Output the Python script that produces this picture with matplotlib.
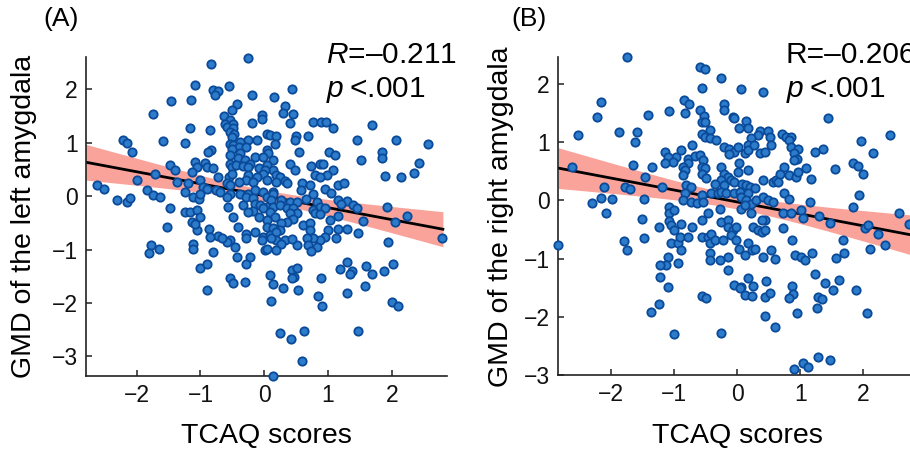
import numpy as np
import matplotlib
matplotlib.use("Agg")
import matplotlib.pyplot as plt

plt.rcParams['font.family'] = ['Liberation Sans', 'DejaVu Sans']
plt.rcParams['mathtext.fontset'] = 'custom'
plt.rcParams['mathtext.rm'] = 'Liberation Sans'
plt.rcParams['mathtext.it'] = 'Liberation Sans:italic'

# ---------------- data: panel A (left amygdala) ----------------
left_x = [
    -0.84,-0.25,-1.08,-0.56,-0.80,-0.72,-0.77,-0.20,0.43,0.15,
    -1.47,-1.15,-0.42,-0.51,0.32,-1.74,-0.63,0.29,0.45,-0.03,
    -0.03,-0.54,-0.61,-0.49,0.76,0.89,0.97,-0.19,0.40,1.69,
    -0.59,-0.49,-0.54,-0.85,-1.17,1.07,-0.47,0.04,0.09,0.18,
    0.50,0.48,0.69,-0.50,-0.12,1.45,2.07,2.56,-2.21,-2.16,
    -1.58,-1.24,-0.26,-0.38,-0.54,-0.49,0.17,-0.83,-0.88,-0.39,
    -0.29,-0.51,-2.08,0.54,1.02,1.85,0.04,0.06,-0.38,-0.41,
    -0.15,-0.02,0.14,1.11,1.51,1.85,-0.54,-0.30,-0.54,-0.50,
    -0.45,-1.09,-0.93,-0.90,-1.06,-1.48,-1.40,-0.80,-0.22,-0.33,
    -0.25,-0.09,0.04,0.40,0.87,0.92,0.74,2.43,2.34,2.15,
    1.90,0.48,0.14,0.01,-0.02,-1.14,-1.71,-0.72,-0.56,-0.51,
    -0.25,-0.12,0.19,0.25,1.08,0.79,0.98,0.87,-0.28,-0.17,
    0.04,0.32,0.19,-0.39,-1.01,-1.37,-2.00,-1.19,-0.59,-0.54,
    -2.63,-2.51,-1.84,-1.74,-1.64,-0.96,-0.90,-0.75,-0.69,-0.54,
    -0.38,-0.25,-0.15,-0.02,0.14,0.35,0.59,0.72,0.95,1.04,
    1.16,1.25,0.57,0.77,-2.31,-2.16,-2.11,-1.24,-1.11,-1.03,
    -1.01,-0.59,-0.28,-0.17,0.04,0.14,0.11,0.27,0.40,0.51,
    0.66,0.82,1.16,1.29,1.39,1.21,1.45,-0.15,-0.07,0.04,
    0.14,0.25,0.35,0.45,0.87,0.95,-1.48,-1.24,-1.17,-1.06,
    -0.57,-0.33,-0.17,-0.02,0.09,0.17,0.77,0.79,1.92,2.23,
    2.05,1.55,1.16,0.87,0.51,0.40,-0.09,-0.25,-1.01,-1.14,
    -1.06,-1.53,-1.09,-0.49,0.60,0.72,0.72,1.29,1.16,1.47,
    1.00,1.03,0.45,0.35,0.27,0.05,0.04,0.14,0.25,-0.41,
    -0.86,-0.72,-0.85,-0.28,-0.15,-0.02,0.09,0.19,1.12,0.95,
    0.87,0.77,0.67,0.69,0.82,2.79,1.94,0.32,0.19,0.27,
    0.11,-0.28,-0.04,-0.54,-0.59,-0.46,-0.67,-1.12,-1.11,-1.77,
    -1.65,-1.80,-0.80,0.01,0.04,0.19,0.51,0.43,0.74,-0.42,
    -0.22,-0.28,-1.01,-0.90,-0.54,-0.49,-0.31,-0.90,0.09,0.13,
    0.29,0.43,0.46,0.52,0.44,0.53,0.89,0.85,0.91,1.19,
    1.29,1.37,1.34,1.29,1.60,1.69,1.58,1.47,1.88,2.02,
    2.00,2.10,0.10,0.24,0.42,0.63,0.59,0.13]
left_y = [
    2.48,2.58,2.08,2.06,1.99,1.97,1.89,1.89,2.00,1.86,
    1.78,1.81,1.72,1.62,1.69,1.53,1.50,1.55,1.54,1.52,
    1.45,1.42,1.36,1.36,1.39,1.39,1.39,1.37,1.37,1.33,
    1.30,1.28,1.20,1.24,1.27,1.27,1.17,1.17,1.14,1.12,
    1.12,1.06,1.12,1.11,1.06,1.06,1.06,0.97,1.06,1.00,
    1.04,0.99,1.06,1.02,0.97,0.96,0.97,0.86,0.83,0.92,
    0.92,0.89,0.82,0.83,0.83,0.83,0.86,0.80,0.80,0.72,
    0.74,0.74,0.67,0.77,0.67,0.71,0.77,0.67,0.61,0.55,
    0.58,0.64,0.62,0.55,0.55,0.58,0.49,0.52,0.61,0.57,
    0.54,0.52,0.58,0.61,0.61,0.61,0.57,0.62,0.44,0.36,
    0.38,0.49,0.49,0.49,0.42,0.46,0.41,0.36,0.36,0.42,
    0.39,0.36,0.39,0.36,0.49,0.39,0.39,0.36,0.30,0.27,
    0.30,0.28,0.27,0.27,0.30,0.27,0.30,0.24,0.24,0.21,
    0.21,0.14,0.11,0.03,-0.02,0.17,0.14,0.11,0.08,0.05,
    0.05,0.05,0.11,0.08,0.08,0.24,0.24,0.21,0.14,0.06,
    0.21,0.24,0.12,0.05,-0.07,-0.11,-0.04,0.08,-0.01,-0.06,
    0.05,-0.01,-0.01,-0.04,-0.01,0.05,-0.07,-0.07,-0.11,-0.11,
    -0.06,-0.11,-0.07,-0.09,-0.17,-0.15,-0.23,-0.15,-0.17,-0.20,
    -0.20,-0.17,-0.23,-0.23,-0.20,-0.23,-0.23,-0.29,-0.29,-0.26,
    -0.20,-0.17,-0.27,-0.23,-0.29,-0.39,-0.25,-0.32,-0.20,-0.37,
    -0.48,-0.46,-0.37,-0.34,-0.32,-0.32,-0.39,-0.29,-0.39,-0.48,
    -0.64,-0.57,-0.52,-0.39,-0.54,-0.51,-0.64,-0.61,-0.61,-0.69,
    -0.64,-0.45,-0.42,-0.48,-0.51,-0.45,-0.57,-0.59,-0.64,-0.57,
    -0.62,-0.75,-0.76,-0.70,-0.67,-0.76,-0.73,-0.67,-0.79,-0.77,
    -0.82,-0.79,-0.79,-0.92,-0.95,-0.79,-0.86,-0.82,-0.82,-0.89,
    -0.79,-0.79,-0.82,-0.82,-0.86,-0.95,-0.79,-0.89,-0.98,-0.92,
    -0.98,-1.06,-1.04,-1.01,-0.98,-1.00,-0.92,-0.81,-1.02,-1.14,
    -1.14,-1.26,-1.35,-1.26,-1.54,-1.62,-1.60,-1.76,-1.48,-1.64,
    -1.71,-1.39,-1.51,-1.35,-1.54,-1.76,-1.54,-1.87,-2.05,-1.37,
    -1.24,-1.40,-1.45,-1.82,-1.31,-1.46,-1.69,-2.52,-1.40,-1.27,
    -1.98,-2.06,-1.97,-2.57,-2.67,-2.53,-3.09,-3.36]

# ---------------- data: panel B (right amygdala) ----------------
right_x = [
    -1.74,-0.59,-0.50,-0.56,-0.25,0.06,0.41,-2.16,-2.21,-2.52,
    -1.87,-1.58,-1.62,-1.41,-1.08,-0.84,-0.76,-0.82,-0.59,-0.52,
    -0.56,-0.50,-0.21,-0.20,-0.06,-0.04,0.15,0.17,0.03,1.44,
    -0.56,-0.50,-0.42,-0.43,-0.33,0.36,0.49,0.52,0.33,0.22,
    0.17,0.72,0.77,0.86,0.83,1.96,2.42,2.16,-0.71,-1.14,
    -0.89,-0.96,-1.09,-1.01,-1.14,-0.78,-0.67,-0.59,-0.54,-0.78,
    -0.20,-0.12,-0.04,0.01,-0.12,0.12,0.17,0.27,0.37,0.44,
    0.54,0.86,0.97,0.91,0.95,0.90,1.23,1.36,-0.85,-0.83,
    -0.85,-0.56,-0.51,-0.56,-0.49,-0.25,-0.20,-0.14,0.03,0.17,
    0.01,-0.25,-0.35,-0.09,-0.04,0.08,0.15,0.20,0.28,0.41,
    0.57,0.62,0.68,0.75,0.83,0.65,0.94,0.97,1.10,1.17,
    1.55,1.84,1.91,2.00,-1.64,-1.46,-1.34,-2.61,-2.11,-2.15,
    -1.98,-2.30,-2.07,-1.77,-1.70,-1.48,-1.19,-0.80,-0.73,-0.83,
    -0.86,-0.73,-0.56,-0.63,-0.54,-0.41,-0.30,-0.21,-0.25,-0.17,
    -0.04,0.04,0.07,0.17,0.14,0.22,0.30,0.41,0.49,0.57,
    0.75,0.82,0.73,0.86,1.02,1.15,1.04,1.30,1.48,1.84,
    1.93,2.56,-1.51,-1.47,-1.24,-1.08,-1.08,-0.99,-1.07,-1.04,
    -0.99,-0.88,-0.72,-0.56,-0.46,-0.27,-0.25,-0.14,-0.14,-0.06,
    -0.01,-0.09,-0.01,0.06,0.12,0.22,0.25,0.33,0.39,0.44,
    0.39,0.44,0.73,2.02,2.07,2.24,2.34,2.10,1.68,1.70,
    1.56,0.87,-2.83,-1.79,-1.75,-1.04,-0.93,-0.88,-0.91,-0.78,
    -0.56,-0.46,-0.43,-0.41,-0.35,-0.22,-0.43,-0.42,-0.27,-0.14,
    0.03,0.12,0.17,0.23,0.28,0.41,0.54,0.60,0.92,1.02,
    1.07,1.19,-1.09,-1.12,-1.22,-0.93,-0.14,-0.04,0.07,0.04,
    0.12,0.23,0.17,0.25,0.46,0.44,0.53,0.87,0.89,0.83,
    0.95,1.24,1.40,1.61,1.52,1.28,1.35,1.26,1.89,2.06,
    -1.22,-1.10,-1.24,-1.37,-0.55,-0.49,-1.00,-0.26,0.45,0.60,
    0.91,1.04,1.12,1.28,1.48,2.73]
right_y = [
    2.46,2.29,2.26,1.94,2.10,1.91,1.86,1.70,1.43,1.12,
    1.17,1.17,1.01,1.46,1.54,1.72,1.65,1.50,1.55,1.45,
    1.35,1.34,1.65,1.56,1.44,1.41,1.37,1.24,1.24,1.41,
    1.14,1.09,1.21,1.07,1.04,1.20,1.20,1.09,1.12,1.07,
    0.95,1.15,1.09,1.09,1.04,1.03,1.12,0.82,0.95,0.84,
    0.87,0.75,0.75,0.66,0.64,0.72,0.76,0.78,0.69,0.65,
    0.92,0.89,0.84,0.92,0.80,0.81,0.87,0.95,0.81,0.84,
    0.95,0.92,0.89,0.81,0.72,0.70,0.84,0.89,0.58,0.52,
    0.44,0.58,0.55,0.46,0.38,0.58,0.46,0.41,0.64,0.52,
    0.49,0.35,0.29,0.35,0.32,0.29,0.26,0.23,0.21,0.35,
    0.32,0.35,0.46,0.58,0.44,0.32,0.41,0.49,0.55,0.37,
    0.54,0.65,0.60,0.45,0.61,0.40,0.58,0.58,0.23,0.05,
    0.03,-0.05,-0.21,0.23,0.19,0.02,0.23,0.26,0.23,0.12,
    0.01,-0.02,0.09,-0.05,-0.02,0.13,0.12,0.26,0.15,0.12,
    0.12,0.15,0.06,0.12,0.01,-0.06,0.01,0.06,0.01,-0.02,
    0.12,0.03,-0.22,-0.22,-0.17,-0.02,-0.31,-0.27,-0.38,-0.12,
    0.09,-0.21,-0.32,-0.64,-0.45,-0.11,-0.21,-0.17,-0.36,-0.42,
    -0.51,-0.40,-0.45,-0.34,-0.22,-0.15,-0.37,-0.34,-0.45,-0.51,
    -0.45,-0.60,-0.68,-0.14,-0.08,-0.22,-0.45,-0.51,-0.54,-0.34,
    -0.34,-0.51,-0.48,-0.48,-0.42,-0.57,-0.77,-0.83,-0.68,-0.91,
    -0.99,-0.68,-0.77,-0.69,-0.85,-0.74,-0.74,-0.85,-0.62,-0.62,
    -0.62,-0.62,-0.74,-0.57,-0.68,-0.68,-0.91,-1.03,-1.03,-0.97,
    -0.83,-0.94,-0.74,-0.85,-0.83,-0.97,-0.85,-1.00,-0.94,-0.97,
    -1.03,-0.91,-0.97,-1.11,-1.11,-1.08,-1.19,-1.46,-1.48,-1.51,
    -1.63,-1.64,-1.34,-1.47,-1.39,-1.66,-1.59,-1.47,-1.60,-1.68,
    -1.93,-1.27,-1.42,-1.37,-1.54,-1.66,-1.70,-1.84,-1.54,-1.94,
    -1.31,-1.48,-1.78,-1.91,-1.64,-1.67,-2.30,-2.27,-1.99,-2.17,
    -2.90,-2.79,-2.86,-2.69,-2.74,-0.40]

panel_labels = ["(A)", "(B)"]
y_labels = ["GMD of the left amygdala", "GMD of the right amygdala"]
x_label = "TCAQ scores"
r_texts = [r"$\mathit{R}$" + "=\u20130.211", "R=\u20130.206"]
p_text = r"$\mathit{p}$" + "\u2009<.001"
x_ticks = [-2, -1, 0, 1, 2]
y_ticks = [-3, -2, -1, 0, 1, 2]

T95 = 1.968  # t critical value for 95% CI

FACE = "#2c7ccb"
EDGE = "#0a4a98"
BAND = "#f9a39b"

W, H = 910, 450
fig = plt.figure(figsize=(W / 100, H / 100), dpi=100)


def px_axes(left, top, right, bottom):
    return [left / W, 1 - bottom / H, (right - left) / W, (bottom - top) / H]


def panel(ax, xs, ys, xlim, ylim, line_range):
    xs = np.asarray(xs)
    ys = np.asarray(ys)
    slope, intercept = np.polyfit(xs, ys, 1)
    n = len(xs)
    resid = ys - (slope * xs + intercept)
    s = np.sqrt(np.sum(resid ** 2) / (n - 2))
    xm = xs.mean()
    sxx = np.sum((xs - xm) ** 2)
    xg = np.linspace(line_range[0], line_range[1], 200)
    yg = slope * xg + intercept
    se = s * np.sqrt(1.0 / n + (xg - xm) ** 2 / sxx)
    ax.fill_between(xg, yg - T95 * se, yg + T95 * se, color=BAND, lw=0, zorder=1)
    ax.plot(xg, yg, color="black", lw=2.0, zorder=2)
    ax.scatter(xs, ys, s=36, facecolor=FACE, edgecolor=EDGE, linewidth=1.3,
               zorder=3, clip_on=False)
    ax.set_xlim(*xlim)
    ax.set_ylim(*ylim)
    ax.set_xticks(x_ticks)
    ax.set_yticks(y_ticks)
    for sp in ["top", "right"]:
        ax.spines[sp].set_visible(False)
    for sp in ["left", "bottom"]:
        ax.spines[sp].set_linewidth(1.2)
        ax.spines[sp].set_color("#222222")
    ax.tick_params(direction="in", length=4, width=1.1, labelsize=16.5,
                   colors="#222222", labelcolor="#111111", pad=6)


axA = fig.add_axes(px_axes(86, 57.3, 446.7, 375.7))
panel(axA, left_x, left_y, (-2.795, 2.86), (-3.36, 2.6), (-2.8, 2.8))
axB = fig.add_axes(px_axes(558.3, 57.3, 917.0, 375.0))
panel(axB, right_x, right_y, (-2.83, 2.85), (-3.0, 2.46), (-2.83, 2.85))

# panel letters
fig.text(43 / W, 1 - 7 / H, panel_labels[0], fontsize=19, ha="left", va="top")
fig.text(511 / W, 1 - 7 / H, panel_labels[1], fontsize=19, ha="left", va="top")

# statistics (the right panel's R text runs off the figure edge, as in the source)
fig.text(326 / W, 1 - 63 / H, r_texts[0], fontsize=21.5, ha="left", va="baseline")
fig.text(326 / W, 1 - 97 / H, p_text, fontsize=21.5, ha="left", va="baseline")
fig.text(786 / W, 1 - 63 / H, r_texts[1], fontsize=21.5, ha="left", va="baseline")
fig.text(786 / W, 1 - 97 / H, p_text, fontsize=21.5, ha="left", va="baseline")

# axis labels
fig.text(266 / W, 1 - 443 / H, x_label, fontsize=20.5, ha="center", va="baseline")
fig.text(737 / W, 1 - 443 / H, x_label, fontsize=20.5, ha="center", va="baseline")
fig.text(24 / W, 1 - 216.5 / H, y_labels[0], fontsize=20.5, ha="center", va="center",
         rotation=90)
fig.text(501 / W, 1 - 216.5 / H, y_labels[1], fontsize=20.5, ha="center", va="center",
         rotation=90)

fig.savefig("out.png", dpi=100)
